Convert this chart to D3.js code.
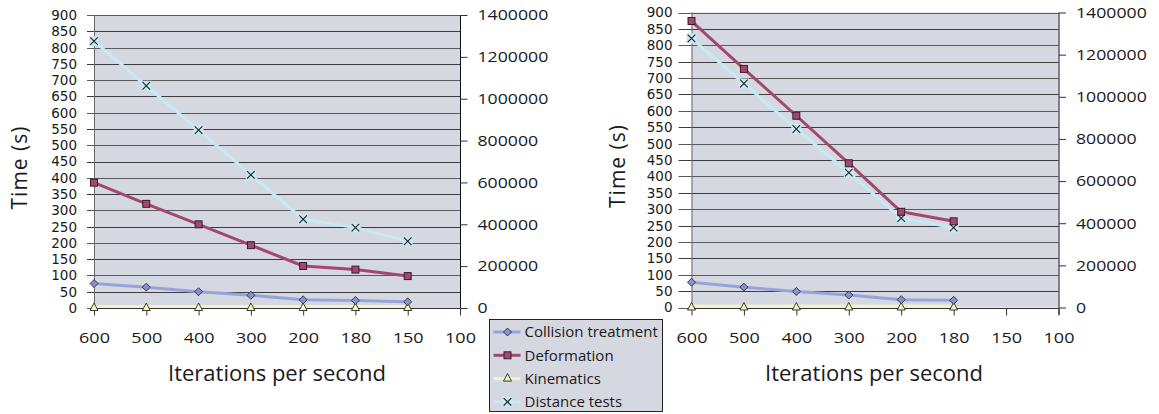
<!DOCTYPE html>
<html>
<head>
<meta charset="utf-8">
<script src="https://cdn.jsdelivr.net/npm/d3@7"></script>
<style>
  html, body { margin: 0; padding: 0; background: #fff; }
  svg { display: block; font-family: "Open Sans", "Noto Sans", sans-serif; }
</style>
</head>
<body>
<svg id="chart" width="1159" height="414"></svg>
<script>
// Iterations-per-second categories shared by both panels
const categories = ["600", "500", "400", "300", "200", "180", "150", "100"];

// Left panel: times (s) on the left axis, distance tests count on the right axis
const collisionA   = [75, 64, 50, 39, 25, 23, 19, null];
const deformationA = [385, 320, 257, 193, 129, 118, 98, null];
const kinematicsA  = [0, 0, 0, 0, 0, 0, 0, null];
const distanceA    = [1275000, 1062000, 850000, 636000, 424000, 384000, 319000, null];

// Right panel
const collisionB   = [77, 62, 49, 38, 24, 22, null, null];
const deformationB = [874, 728, 585, 440, 292, 263, null, null];
const kinematicsB  = [0, 0, 0, 0, 0, 0, null, null];
const distanceB    = [1277000, 1063000, 847000, 640000, 424000, 379000, null, null];

// Axis ticks
const timeTicks  = d3.range(0, 901, 50);
const countTicks = d3.range(0, 1400001, 200000);

const seriesNames = ["Collision treatment", "Deformation", "Kinematics", "Distance tests"];

const svg = d3.select("#chart");
const plotFill = "#d5d8e0";

const styles = {
  collision:   { line: "#99a3da", fill: "#8791cf", marker: "diamond" },
  deformation: { line: "#a2486f", fill: "#a2486f", marker: "square" },
  kinematics:  { line: "#f3f1cf", fill: "#f8f4c0", marker: "triangle" },
  distance:    { line: "#c6e9f3", fill: "#c6e9f3", marker: "cross" }
};

// Horizontally widen text to the proportions of the original typesetting
function stretch(sel, f) {
  sel.each(function () {
    const w = this.getComputedTextLength();
    this.setAttribute("textLength", w * f);
    this.setAttribute("lengthAdjust", "spacingAndGlyphs");
  });
}

function drawMarker(g, type, cx, cy, st) {
  if (type === "diamond") {
    g.append("path")
      .attr("d", `M${cx},${cy - 4}L${cx + 4},${cy}L${cx},${cy + 4}L${cx - 4},${cy}Z`)
      .attr("fill", st.fill).attr("stroke", "#2b2b3a").attr("stroke-width", 0.9);
  } else if (type === "square") {
    g.append("rect")
      .attr("x", cx - 3.5).attr("y", cy - 3.5).attr("width", 7).attr("height", 7)
      .attr("fill", st.fill).attr("stroke", "#2a1520").attr("stroke-width", 0.9);
  } else if (type === "triangle") {
    g.append("path")
      .attr("d", `M${cx},${cy - 5}L${cx + 4},${cy + 2.5}L${cx - 4},${cy + 2.5}Z`)
      .attr("fill", st.fill).attr("stroke", "#2a2a20").attr("stroke-width", 0.9);
  } else if (type === "cross") {
    g.append("rect")
      .attr("x", cx - 5).attr("y", cy - 5).attr("width", 10).attr("height", 10)
      .attr("fill", st.fill);
    g.append("path")
      .attr("d", `M${cx - 3.8},${cy - 3.8}L${cx + 3.8},${cy + 3.8}M${cx + 3.8},${cy - 3.8}L${cx - 3.8},${cy + 3.8}`)
      .attr("stroke", "#222").attr("stroke-width", 1.1).attr("fill", "none");
  }
}

function panel(cfg) {
  const { x0, x1, y0, y1 } = cfg;
  const g = svg.append("g");

  const x  = d3.scalePoint().domain(categories).range([x0, x1]).padding(0);
  const yL = d3.scaleLinear().domain([0, 900]).range([y1, y0]);
  const yR = d3.scaleLinear().domain([0, 1400000]).range([y1, y0]);

  // plot area
  g.append("rect").attr("x", x0).attr("y", y0).attr("width", x1 - x0).attr("height", y1 - y0)
    .attr("fill", plotFill);

  // horizontal gridlines (with outer tick on the left)
  g.append("g").selectAll("line").data(timeTicks).join("line")
    .attr("x1", x0 - cfg.leftTick).attr("x2", x1)
    .attr("y1", d => Math.round(yL(d)) + 0.5).attr("y2", d => Math.round(yL(d)) + 0.5)
    .attr("stroke", (d, i) => i % 2 ? "#3c3c3c" : "#5a5a5a").attr("stroke-width", 1);

  // left axis line
  g.append("line").attr("x1", x0 + 0.5).attr("x2", x0 + 0.5).attr("y1", y0).attr("y2", y1)
    .attr("stroke", "#6a6a6a");

  // left tick labels (compact face so the 50-step labels sit tightly without colliding)
  g.append("g").selectAll("text").data(timeTicks).join("text")
    .attr("x", x0 - cfg.leftGap).attr("y", d => yL(d))
    .attr("dy", "0.37em").attr("text-anchor", "end")
    .attr("font-family", "DejaVu Sans, sans-serif")
    .attr("font-size", 13.5).attr("fill", "#1a1a1a")
    .text(d => d);

  // right axis (secondary, distance tests)
  const right = g.append("g").attr("transform", `translate(${x1 + 0.5},0)`)
    .call(d3.axisRight(yR).tickValues(countTicks).tickSize(7).tickPadding(10).tickFormat(d3.format("d")));
  right.select(".domain").attr("stroke", "#111").attr("d", `M0,${y0}V${y1 + 7}`);
  right.selectAll(".tick line").attr("stroke", "#333");
  right.selectAll(".tick text").attr("font-size", 15).attr("fill", "#1a1a1a")
    .attr("font-family", "Open Sans, Noto Sans, sans-serif").call(stretch, 1.18);

  // bottom axis
  const bottom = g.append("g").attr("transform", `translate(0,${Math.round(y1) + 0.5})`)
    .call(d3.axisBottom(x).tickSize(7).tickPadding(17));
  bottom.select(".domain").attr("stroke", "#333").attr("d", `M${x0},0H${x1}`);
  bottom.selectAll(".tick line").attr("stroke", "#333");
  bottom.selectAll(".tick text").attr("font-size", 15).attr("fill", "#1a1a1a")
    .attr("font-family", "Open Sans, Noto Sans, sans-serif").call(stretch, 1.2);

  // axis titles
  g.append("text")
    .attr("transform", `translate(${cfg.yTitleX},${(y0 + y1) / 2 + 6}) rotate(-90)`)
    .attr("text-anchor", "middle").attr("dy", "0.36em")
    .attr("font-size", 21).attr("letter-spacing", 1).attr("fill", "#1a1a1a").text("Time (s)");
  g.append("text")
    .attr("x", cfg.xTitleX).attr("y", 381)
    .attr("text-anchor", "middle")
    .attr("font-size", 22).attr("fill", "#1a1a1a").text("Iterations per second");

  // series
  const series = [
    { key: "distance",    data: cfg.distance,    y: yR },
    { key: "kinematics",  data: cfg.kinematics,  y: yL },
    { key: "collision",   data: cfg.collision,   y: yL },
    { key: "deformation", data: cfg.deformation, y: yL }
  ];
  series.forEach(s => {
    const st = styles[s.key];
    const line = d3.line()
      .defined(d => d != null)
      .x((d, i) => x(categories[i]))
      .y(d => s.y(d) - (s.key === "kinematics" ? 1.5 : 0));
    g.append("path").datum(s.data).attr("d", line)
      .attr("fill", "none").attr("stroke", st.line).attr("stroke-width", 3)
      .attr("stroke-linejoin", "round");
  });
  series.forEach(s => {
    const st = styles[s.key];
    const mg = g.append("g");
    s.data.forEach((d, i) => {
      if (d == null) return;
      drawMarker(mg, st.marker, x(categories[i]), s.y(d), st);
    });
  });
}

panel({
  x0: 94, x1: 460, y0: 15, y1: 308, leftTick: 7, leftGap: 17,
  yTitleX: 19, xTitleX: 277,
  collision: collisionA, deformation: deformationA, kinematics: kinematicsA, distance: distanceA
});
panel({
  x0: 691.5, x1: 1058.5, y0: 12.5, y1: 307.5, leftTick: 13, leftGap: 19,
  yTitleX: 617, xTitleX: 874,
  collision: collisionB, deformation: deformationB, kinematics: kinematicsB, distance: distanceB
});

// legend
const legend = svg.append("g").attr("transform", "translate(489.5,319.5)");
legend.append("rect").attr("width", 173).attr("height", 92)
  .attr("fill", plotFill).attr("stroke", "#222").attr("stroke-width", 1);
const legendKeys = ["collision", "deformation", "kinematics", "distance"];
legendKeys.forEach((k, i) => {
  const cy = 12.5 + i * 23.3;
  const st = styles[k];
  legend.append("line").attr("x1", 4).attr("x2", 31).attr("y1", cy).attr("y2", cy)
    .attr("stroke", st.line).attr("stroke-width", 3);
  drawMarker(legend, st.marker, 18, cy, st);
  legend.append("text").attr("x", 35).attr("y", cy).attr("dy", "0.36em")
    .attr("font-size", 15).attr("fill", "#1a1a1a").text(seriesNames[i]);
});
</script>
</body>
</html>
